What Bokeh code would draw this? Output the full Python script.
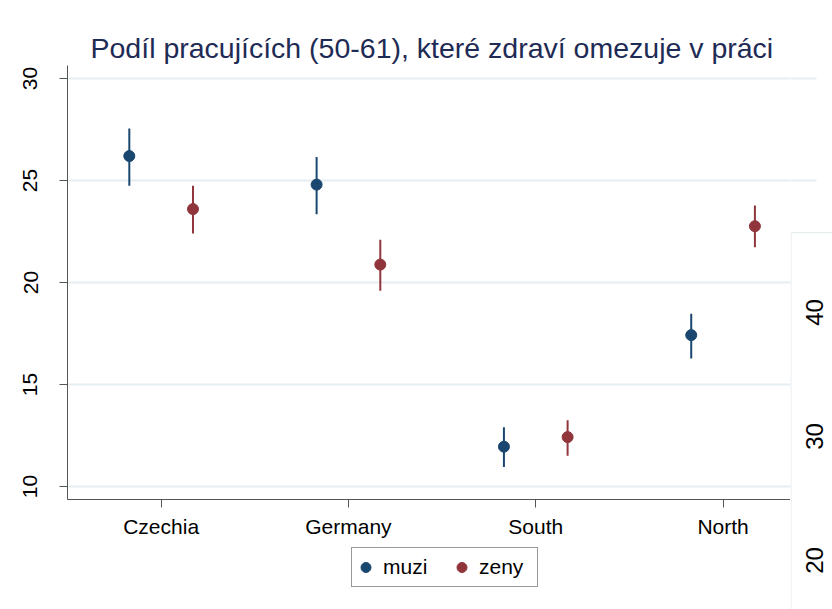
import math
from bokeh.plotting import figure
from bokeh.layouts import row, column
from bokeh.models import (FixedTicker, Legend, LegendItem, ColumnDataSource,
                          Range1d, Title, Spacer)
from bokeh.core.properties import value
from bokeh.embed import file_html
from bokeh.resources import INLINE

# ---- data ----
categories = ["Czechia", "Germany", "South", "North"]
muzi = [26.2, 24.8, 11.95, 17.42]
muzi_lo = [24.75, 23.35, 10.95, 16.27]
muzi_hi = [27.55, 26.15, 12.9, 18.47]
zeny = [23.6, 20.88, 12.42, 22.76]
zeny_lo = [22.4, 19.6, 11.5, 21.73]
zeny_hi = [24.75, 22.1, 13.25, 23.77]
y_ticks = [10, 15, 20, 25, 30]
# y-axis labels of a second, overlapping graph seen at the right edge
other_ticks = [40, 30, 20]

BLUE = "#1a476f"
RED = "#90353b"
GRID = "#e6eef1"
AXIS = "#555555"
FONT = "Liberation Sans"

TOTAL_H = 609
# ---------------- main plot ----------------
MW, MH = 790, 547
p = figure(width=MW, height=MH, output_backend="svg", toolbar_location=None,
           x_range=Range1d(0.5, 4.36), y_range=Range1d(9.36, 30.64),
           min_border_left=67, min_border_right=0, min_border_top=65,
           min_border_bottom=48)
p.background_fill_color = "white"
p.border_fill_color = "white"
p.outline_line_color = None

title = Title(text="Podíl pracujících (50-61), které zdraví omezuje v práci",
              text_font=FONT, text_font_size="28.5px", text_font_style="normal",
              text_color="#1e2b55", align="left", offset=23, standoff=4)
p.add_layout(title, "above")

xm = [i + 1 - 0.17 for i in range(len(categories))]
xz = [i + 1 + 0.17 for i in range(len(categories))]
src_m = ColumnDataSource(dict(x=xm, y=muzi, lo=muzi_lo, hi=muzi_hi))
src_z = ColumnDataSource(dict(x=xz, y=zeny, lo=zeny_lo, hi=zeny_hi))

p.segment(x0="x", x1="x", y0="lo", y1="hi", source=src_m, line_color=BLUE, line_width=2)
p.segment(x0="x", x1="x", y0="lo", y1="hi", source=src_z, line_color=RED, line_width=2)
p.scatter("x", "y", source=src_m, size=11, color=BLUE)
p.scatter("x", "y", source=src_z, size=11, color=RED)

p.xaxis.ticker = FixedTicker(ticks=[1, 2, 3, 4])
p.xaxis.major_label_overrides = {i + 1: c for i, c in enumerate(categories)}
p.yaxis.ticker = FixedTicker(ticks=y_ticks)
p.yaxis.major_label_orientation = "vertical"
for ax in (p.xaxis[0], p.yaxis[0]):
    ax.axis_line_color = AXIS
    ax.axis_line_width = 1
    ax.major_tick_line_color = AXIS
    ax.major_tick_out = 8
    ax.major_tick_in = 0
    ax.minor_tick_line_color = None
    ax.major_label_text_font = FONT
    ax.major_label_text_font_size = "21px"
    ax.major_label_text_color = "black"
p.xaxis.major_label_standoff = 7
p.yaxis.major_label_standoff = 22

p.xgrid.grid_line_color = None
p.ygrid.grid_line_color = GRID
p.ygrid.grid_line_width = 2

# ---------------- legend (own small figure below the plot) ----------------
leg = figure(width=200, height=TOTAL_H - MH, output_backend="svg", toolbar_location=None,
             x_range=Range1d(0, 1), y_range=Range1d(0, 1),
             x_axis_location=None, y_axis_location=None,
             min_border=0)
leg.outline_line_color = None
leg.grid.grid_line_color = None
lm = leg.scatter(x=[-10], y=[-10], size=10, color=BLUE)
lz = leg.scatter(x=[-10], y=[-10], size=10, color=RED)
legend = Legend(items=[LegendItem(label="muzi", renderers=[lm]),
                       LegendItem(label="zeny", renderers=[lz])],
                orientation="horizontal", location="top_left",
                glyph_width=25, glyph_height=36, padding=1, spacing=9,
                label_width=57, label_standoff=5,
                label_text_font=FONT, label_text_font_size="21px",
                label_text_color="black",
                border_line_color="#333333", border_line_width=1,
                background_fill_color="white", background_fill_alpha=1.0, margin=0)
leg.add_layout(legend, "center")

# ---------------- right strip: overlapping second graph ----------------
RW = 42
r = figure(width=RW, height=TOTAL_H, output_backend="svg", toolbar_location=None,
           x_range=Range1d(0, RW), y_range=Range1d(16.05, 65.16),
           x_axis_location=None, y_axis_location=None, min_border=0)
r.outline_line_color = None
r.grid.grid_line_color = None
r.extra_y_ranges = {"main": Range1d(3.967, 33.827)}
# continuation of the main plot's grid lines
r.segment(x0=[0] * len(y_ticks), x1=[26] * len(y_ticks), y0=y_ticks, y1=y_ticks,
          y_range_name="main", line_color=GRID, line_width=2)
# graph region of the second graph
r.quad(left=[0.5], right=[80], top=[46.45], bottom=[0],
       fill_color="white", line_color="#e4ebef", line_width=1)
r.text(x=[24] * len(other_ticks), y=other_ticks, text=[str(t) for t in other_ticks],
       angle=math.pi / 2, text_align="center", text_baseline="middle",
       text_font=value(FONT), text_font_size="24px", text_color="black")

layout = row(column(p, row(Spacer(width=351, height=TOTAL_H - MH), leg)), r)
open("out.html", "w").write(file_html(layout, INLINE))
